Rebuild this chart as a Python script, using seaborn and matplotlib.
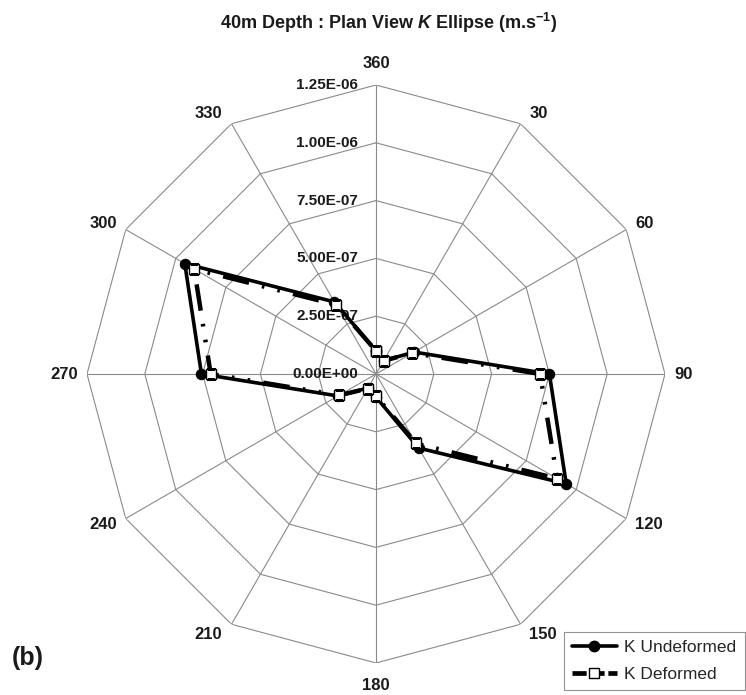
import numpy as np
import pandas as pd
import matplotlib
matplotlib.use("Agg")
import matplotlib.pyplot as plt
from matplotlib.lines import Line2D
import seaborn as sns

# ---------------- data ----------------
directions = [360, 30, 60, 90, 120, 150, 180, 210, 240, 270, 300, 330]
k_undeformed = [1.0e-7, 0.66e-7, 1.9e-7, 7.5e-7, 9.5e-7, 3.7e-7,
                1.0e-7, 0.70e-7, 1.9e-7, 7.55e-7, 9.55e-7, 3.6e-7]
k_deformed = [1.0e-7, 0.66e-7, 1.82e-7, 7.1e-7, 9.05e-7, 3.47e-7,
              0.96e-7, 0.73e-7, 1.84e-7, 7.15e-7, 9.08e-7, 3.46e-7]
series_names = ["K Undeformed", "K Deformed"]
radial_ticks = [0.0, 2.5e-7, 5.0e-7, 7.5e-7, 1.0e-6, 1.25e-6]
radial_labels = ["0.00E+00", "2.50E-07", "5.00E-07", "7.50E-07", "1.00E-06", "1.25E-06"]
r_max = 1.25e-6

# ---------------- style ----------------
sns.set_theme(style="white")
plt.rcParams["font.family"] = ["Liberation Sans", "DejaVu Sans"]
plt.rcParams["mathtext.fontset"] = "custom"
plt.rcParams["mathtext.rm"] = "Liberation Sans:bold"
plt.rcParams["mathtext.it"] = "Liberation Sans:italic:bold"
plt.rcParams["mathtext.bf"] = "Liberation Sans:bold"

W, H, DPI = 746, 695, 100
fig = plt.figure(figsize=(W / DPI, H / DPI), dpi=DPI)
fig.patch.set_facecolor("white")

cx, cy, R = 376, 374, 289
ax = fig.add_axes([(cx - R) / W, (H - cy - R) / H, 2 * R / W, 2 * R / H],
                  projection="polar")
ax.set_theta_zero_location("N")
ax.set_theta_direction(-1)
ax.set_facecolor("white")

theta = np.deg2rad(np.array(directions) % 360)
theta_closed = np.append(theta, theta[0])

def closed(vals):
    return np.append(np.array(vals), vals[0])

df = pd.concat([
    pd.DataFrame({"theta": theta_closed, "K": closed(k_undeformed), "series": series_names[0]}),
    pd.DataFrame({"theta": theta_closed, "K": closed(k_deformed), "series": series_names[1]}),
], ignore_index=True)

grid_col = "#8a8a8a"
# polygon grid rings at the labelled radial ticks
for r in radial_ticks[1:]:
    ax.plot(theta_closed, np.full_like(theta_closed, r), color=grid_col, lw=0.8, zorder=1)

# spokes via theta grid
ax.set_xticks(theta)
ax.set_xticklabels([])
ax.xaxis.grid(True, color=grid_col, lw=0.8)
ax.yaxis.grid(False)
ax.set_yticks([])
ax.spines["polar"].set_visible(False)

dash_style = (0, (6, 3, 0.6, 3, 0.6, 3))

# series
sns.lineplot(data=df[df["series"] == series_names[0]], x="theta", y="K",
             sort=False, estimator=None, color="black", lw=2.6,
             marker="o", markersize=7.5, markeredgecolor="black",
             markerfacecolor="black", ax=ax, zorder=3, legend=False)
sns.lineplot(data=df[df["series"] == series_names[1]], x="theta", y="K",
             sort=False, estimator=None, color="black", lw=3.2,
             linestyle=dash_style,
             marker="s", markersize=7, markeredgecolor="black",
             markeredgewidth=1.0, markerfacecolor="white", ax=ax, zorder=4,
             legend=False)

ax.set_xlabel("")
ax.set_ylabel("")
ax.set_ylim(0, r_max)

# radial labels
for v, lab in zip(radial_ticks, radial_labels):
    ax.annotate(lab, xy=(0, v), xytext=(-13, 0), textcoords="offset points",
                ha="right", va="center", fontsize=11, fontweight="bold",
                color="#1a1a1a", zorder=2)

# category labels
px = 0.72
for d, t in zip(directions, theta):
    s, c = np.sin(t), np.cos(t)
    if abs(s) < 0.1:
        if c > 0:
            ax.annotate(str(d), xy=(t, r_max), xytext=(0, 14 * px), textcoords="offset points",
                        ha="center", va="bottom", fontsize=12, fontweight="bold", color="#1a1a1a")
        else:
            ax.annotate(str(d), xy=(t, r_max), xytext=(0, -15 * px), textcoords="offset points",
                        ha="center", va="top", fontsize=12, fontweight="bold", color="#1a1a1a")
    else:
        ax.annotate(str(d), xy=(t, r_max), xytext=(9 * px * np.sign(s), 12 * c * px),
                    textcoords="offset points", ha="left" if s > 0 else "right",
                    va="center", fontsize=12, fontweight="bold", color="#1a1a1a")

# title and panel tag
fig.text(389 / W, 1 - 23 / H, "40m Depth : Plan View $\\mathit{K}$ Ellipse (m.s$^{-1}$)",
         ha="center", va="center", fontsize=13, fontweight="bold", color="#1a1a1a")
fig.text(12 / W, 1 - 658 / H, "(b)", ha="left", va="center", fontsize=18,
         fontweight="bold", color="#1a1a1a")

# legend
handles = [
    Line2D([], [], color="black", lw=2.6, marker="o", markersize=7.5),
    Line2D([], [], color="black", lw=3.4, linestyle=(0, (3, 0.8)),
           marker="s", markersize=7, markerfacecolor="white", markeredgecolor="black"),
]
leg = fig.legend(handles, series_names, loc="lower left",
                 bbox_to_anchor=(564 / W, 5 / H, (745 - 564) / W, (690 - 633) / H),
                 bbox_transform=fig.transFigure, mode="expand", borderaxespad=0,
                 fancybox=False, frameon=True, edgecolor="#777777", fontsize=12.5,
                 handlelength=2.6, labelspacing=0.7, borderpad=0.45,
                 handletextpad=0.4)
leg.get_frame().set_linewidth(0.8)

fig.savefig("out.png", dpi=DPI, facecolor="white")
